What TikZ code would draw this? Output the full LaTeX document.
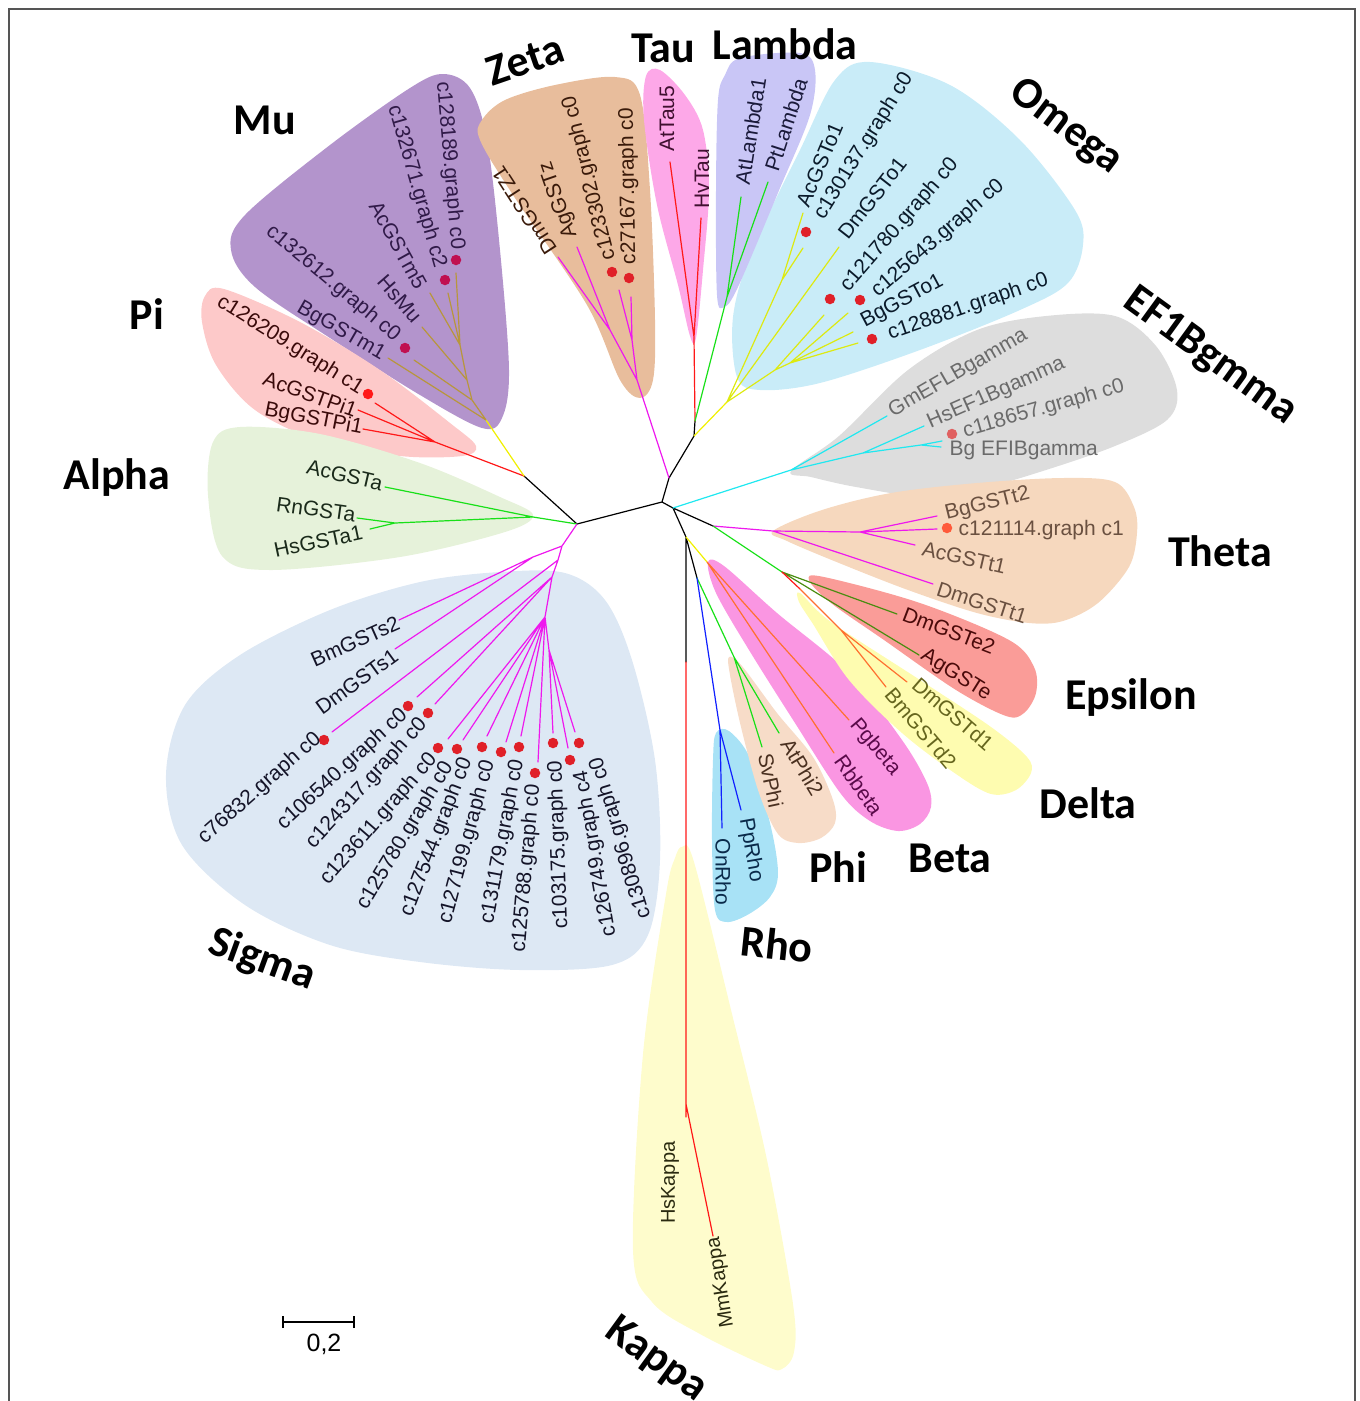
\documentclass[tikz,border=0pt]{standalone}
\usepackage{fontspec}
\setmainfont{Liberation Sans}
\newfontfamily\grpfont{Carlito}
\definecolor{hMu}{HTML}{B394CC}
\definecolor{hPi}{HTML}{FDC9C9}
\definecolor{hAlpha}{HTML}{E6F2DA}
\definecolor{hSigma}{HTML}{DDE8F4}
\definecolor{hKappa}{HTML}{FEFCCC}
\definecolor{hRho}{HTML}{A8E2F6}
\definecolor{hPhi}{HTML}{F7DCC8}
\definecolor{hBeta}{HTML}{FA96E2}
\definecolor{hDelta}{HTML}{FEFCB0}
\definecolor{hEps}{HTML}{FA9C98}
\definecolor{hTheta}{HTML}{F6D8BE}
\definecolor{hEF}{HTML}{DDDDDD}
\definecolor{hOmega}{HTML}{C9ECF8}
\definecolor{hLambda}{HTML}{C9C6F6}
\definecolor{hTau}{HTML}{FDA8E8}
\definecolor{hZeta}{HTML}{E8BD9C}
\definecolor{lOlive}{HTML}{B8963C}
\definecolor{lYel}{HTML}{F0F000}
\definecolor{lOmg}{HTML}{DDEA10}
\definecolor{lRed}{HTML}{FF1818}
\definecolor{lGrn}{HTML}{18E018}
\definecolor{lMag}{HTML}{EE18EE}
\definecolor{lCyan}{HTML}{20E8F0}
\definecolor{lDkGrn}{HTML}{4A8C10}
\definecolor{lOra}{HTML}{FF7030}
\definecolor{lBlue}{HTML}{1020FF}
\definecolor{tMu}{HTML}{301A48}
\definecolor{tPi}{HTML}{3A0A0A}
\definecolor{tAlpha}{HTML}{1A2A1A}
\definecolor{tSigma}{HTML}{141428}
\definecolor{tZeta}{HTML}{3A1A0A}
\definecolor{tTau}{HTML}{401030}
\definecolor{tLambda}{HTML}{1A1A3A}
\definecolor{tOmega}{HTML}{0A1A2A}
\definecolor{tEF}{HTML}{6A6A6A}
\definecolor{tTheta}{HTML}{6A5040}
\definecolor{tEps}{HTML}{4A0A0A}
\definecolor{tDelta}{HTML}{66661E}
\definecolor{tBeta}{HTML}{5A0A4A}
\definecolor{tPhi}{HTML}{4A3020}
\definecolor{tRho}{HTML}{0A2A4A}
\definecolor{tKappa}{HTML}{2A2A10}
\definecolor{dRed}{HTML}{E02028}
\definecolor{dMu}{HTML}{C01050}
\definecolor{dEF}{HTML}{E06060}
\definecolor{dTheta}{HTML}{FF5A3A}
\definecolor{frameC}{HTML}{555555}
\begin{document}
\begin{tikzpicture}[x=1pt,y=-1pt,
  br/.style={line width=1.2pt, line cap=round},
  lf/.style={font=\fontsize{21}{24}\selectfont, inner sep=0.5pt},
  lfe/.style={lf, anchor=east},
  lfw/.style={lf, anchor=west},
  grp/.style={font=\grpfont\bfseries\fontsize{44}{48}\selectfont, inner sep=0pt},
  dt/.style={circle, fill=#1, inner sep=0pt, minimum size=10.5pt},
  hull/.style={fill=#1, draw=none},
  frm/.style={draw=frameC, line width=1.6pt}]
\useasboundingbox (0,0) rectangle (1360,1401);
% frame
\coordinate (fr1) at (9,1430); \coordinate (fr2) at (9,9);
\coordinate (fr3) at (1355,9); \coordinate (fr4) at (1355,1430);
\draw[frm] (fr1) -- (fr2) -- (fr3) -- (fr4);
% hulls
\fill[hull=hMu] plot[smooth cycle, tension=0.55] coordinates {(443,74) (470,88) (487,140) (500,250) (509,370) (502,418) (482,428) (420,395) (330,338) (255,287) (231,250) (245,215) (330,145) (410,88)};
\fill[hull=hZeta] plot[smooth cycle, tension=0.55] coordinates {(482,120) (505,100) (555,85) (615,77) (640,95) (650,190) (655,320) (653,380) (640,398) (620,380) (587,305) (513,195) (480,140)};
\fill[hull=hPi] plot[smooth cycle, tension=0.55] coordinates {(205,296) (224,289) (300,322) (380,370) (450,423) (476,446) (462,456) (400,456) (320,441) (255,410) (216,365) (202,322)};
\fill[hull=hAlpha] plot[smooth cycle, tension=0.55] coordinates {(213,442) (240,427) (320,434) (420,463) (500,497) (533,515) (505,532) (400,557) (270,570) (222,556) (208,495)};
\fill[hull=hSigma] plot[smooth cycle, tension=0.55] coordinates {(500,572) (565,573) (605,600) (632,660) (655,760) (660,860) (648,935) (612,965) (520,970) (420,962) (330,945) (245,905) (182,845) (166,775) (185,705) (240,655) (330,610) (420,582)};
\fill[hull=hKappa] plot[smooth cycle, tension=0.55] coordinates {(682,847) (694,862) (733,1018) (767,1160) (793,1304) (794,1352) (782,1369) (766,1366) (700,1334) (652,1302) (633,1250) (643,1054) (666,894) (675,858)};
\fill[hull=hRho] plot[smooth cycle, tension=0.55] coordinates {(716,733) (729,731) (750,758) (770,823) (778,873) (770,897) (749,914) (727,922) (715,910) (712,840) (713,760)};
\fill[hull=hPhi] plot[smooth cycle, tension=0.55] coordinates {(729,657) (742,666) (777,713) (813,757) (833,800) (835,823) (821,838) (798,843) (778,834) (759,793) (741,727) (730,675)};
\fill[hull=hBeta] plot[smooth cycle, tension=0.55] coordinates {(708,562) (724,566) (777,613) (849,673) (902,740) (927,783) (931,807) (920,824) (898,831) (870,821) (841,794) (795,723) (749,650) (716,593)};
\fill[hull=hDelta] plot[smooth cycle, tension=0.55] coordinates {(800,593) (831,622) (920,680) (991,727) (1027,757) (1031,773) (1016,790) (991,794) (956,774) (902,733) (849,680) (813,624) (799,602)};
\fill[hull=hOmega] plot[smooth cycle, tension=0.55] coordinates {(835,80) (870,62) (950,85) (1020,140) (1075,210) (1083,245) (1068,283) (1020,310) (920,350) (820,383) (760,390) (737,377) (733,317) (752,250) (800,150)};
\fill[hull=hEF] plot[smooth cycle, tension=0.55] coordinates {(791,471) (839,436) (908,370) (977,330) (1046,316) (1115,316) (1156,346) (1177,390) (1167,420) (1115,446) (1046,470) (977,490) (925,497) (856,487) (811,477)};
\fill[hull=hTheta] plot[smooth cycle, tension=0.55] coordinates {(773,531) (822,510) (891,493) (977,483) (1063,478) (1115,482) (1134,507) (1137,533) (1129,567) (1098,603) (1063,621) (1029,623) (977,613) (908,590) (839,563) (787,541)};
\fill[hull=hEps] plot[smooth cycle, tension=0.55] coordinates {(809,580) (824,577) (920,603) (1009,640) (1034,667) (1036,693) (1024,713) (1006,716) (956,690) (884,640) (831,603)};
\fill[hull=hLambda] plot[smooth cycle, tension=0.55] coordinates {(725,75) (740,58) (800,53) (815,70) (810,115) (780,188) (738,287) (724,307) (717,295) (716,190) (718,100)};
\fill[hull=hTau] plot[smooth cycle, tension=0.55] coordinates {(646,76) (660,70) (685,95) (703,130) (709,190) (703,270) (696,338) (690,336) (678,285) (657,205) (644,120)};
% tree coordinates
\coordinate (A) at (577,524); \coordinate (B) at (662,502); \coordinate (B1) at (669,478);
\coordinate (C) at (694,436); \coordinate (C2) at (695,421); \coordinate (D) at (673,508);
\coordinate (E) at (713,526); \coordinate (F) at (686,537); \coordinate (G) at (697,578);
\coordinate (H) at (524,476); \coordinate (Kb) at (686,662);
\coordinate (Z0) at (637,380); \coordinate (Za) at (610,330); \coordinate (Zb) at (632,340);
\coordinate (zDm) at (558,257); \coordinate (zAg) at (577,247); \coordinate (zC1) at (619,290); \coordinate (zC2) at (631,297);
\coordinate (T0) at (694,337); \coordinate (tAt) at (670,162); \coordinate (tHv) at (701,218);
\coordinate (L0) at (727,297); \coordinate (lAt) at (741,197); \coordinate (lPt) at (768,182);
\coordinate (O0) at (727,402); \coordinate (Oa) at (782,280); \coordinate (Oc) at (775,370); \coordinate (Od) at (790,363);
\coordinate (oAc) at (803,213); \coordinate (oC130) at (803,248); \coordinate (oDm) at (839,247);
\coordinate (oC121) at (824,315); \coordinate (oC125) at (848,313); \coordinate (oBg) at (853,332); \coordinate (oC128) at (858,343);
\coordinate (Ef0) at (791,470); \coordinate (Ef1) at (863,453); \coordinate (Ef2) at (921,445);
\coordinate (eGm) at (887,416); \coordinate (eHs) at (924,426); \coordinate (eC) at (942,441); \coordinate (eBg) at (941,447);
\coordinate (Th0) at (773,531); \coordinate (ThN) at (860,532);
\coordinate (thBg) at (937,516); \coordinate (thC) at (937,529); \coordinate (thAc) at (915,545); \coordinate (thDm) at (933,584);
\coordinate (ED) at (782,572); \coordinate (D0) at (800,589); \coordinate (D1) at (841,630);
\coordinate (eDm2) at (897,614); \coordinate (eAg) at (919,655); \coordinate (dDm) at (907,682); \coordinate (dBm) at (886,687);
\coordinate (Bn) at (707,562); \coordinate (bPg) at (849,720); \coordinate (bRb) at (834,753);
\coordinate (P0) at (734,657); \coordinate (pAt) at (779,733); \coordinate (pSv) at (762,747);
\coordinate (R0) at (720,730); \coordinate (rOn) at (722,828); \coordinate (rPp) at (741,810);
\coordinate (K) at (686,1104); \coordinate (kHs) at (686,1117); \coordinate (kMm) at (713,1236);
\coordinate (Pi0) at (435,442); \coordinate (piC) at (375,403); \coordinate (piAc) at (358,410); \coordinate (piBg) at (363,429);
\coordinate (M0) at (486,420); \coordinate (M1) at (472,400); \coordinate (M2) at (467,380); \coordinate (M3) at (460,345);
\coordinate (mBg) at (388,358); \coordinate (mC126) at (414,360); \coordinate (mHs) at (422,327);
\coordinate (mAc) at (430,293); \coordinate (mC132) at (448,293); \coordinate (mC128) at (456,273);
\coordinate (Al0) at (533,517); \coordinate (Al1) at (395,523);
\coordinate (aAc) at (385,487); \coordinate (aRn) at (357,518); \coordinate (aHs) at (370,529);
\coordinate (S0) at (562,546); \coordinate (S1) at (533,557); \coordinate (S2) at (558,560);
\coordinate (S3) at (552,577); \coordinate (S5) at (545,617); \coordinate (S6) at (549,650);
\coordinate (sBm) at (399,620); \coordinate (sDm) at (395,649); \coordinate (sC76) at (332,732);
\coordinate (sC106) at (417,697); \coordinate (sC124) at (435,704); \coordinate (sC123) at (448,739);
\coordinate (sC125780) at (463,740); \coordinate (sC127544) at (487,736); \coordinate (sC127199) at (506,742);
\coordinate (sC131) at (521,736); \coordinate (sC125788) at (538,762); \coordinate (sC103) at (553,733);
\coordinate (sC126) at (568,748); \coordinate (sC130) at (575,732);
% branches
\draw[br,black] (A)--(B) (B)--(B1) (B1)--(C) (C)--(C2) (B)--(D) (D)--(E) (D)--(F) (F)--(G) (F)--(Kb) (A)--(H);
\draw[br,lMag] (B1)--(Z0) (Z0)--(Za) (Za)--(zDm) (Za)--(zAg) (Z0)--(Zb) (Zb)--(zC1) (Zb)--(zC2);
\draw[br,lRed] (C2)--(T0) (T0)--(tAt) (T0)--(tHv);
\draw[br,lGrn] (C2)--(L0) (L0)--(lAt) (L0)--(lPt);
\draw[br,lYel] (C)--(O0);
\draw[br,lOmg] (O0)--(Oa) (Oa)--(oAc) (Oa)--(oC130) (O0)--(oDm) (O0)--(Oc) (Oc)--(oC121) (Oc)--(Od) (Od)--(oC125) (Od)--(oBg) (Od)--(oC128);
\draw[br,lCyan] (D)--(Ef0) (Ef0)--(eGm) (Ef0)--(Ef1) (Ef1)--(eHs) (Ef1)--(Ef2) (Ef2)--(eC) (Ef2)--(eBg);
\draw[br,lMag] (E)--(Th0) (Th0)--(ThN) (ThN)--(thBg) (ThN)--(thC) (ThN)--(thAc) (Th0)--(thDm);
\draw[br,lGrn] (E)--(ED);
\draw[br,lDkGrn] (ED)--(eDm2) (ED)--(eAg);
\draw[br,lRed] (ED)--(D0);
\draw[br,lOra] (D0)--(D1) (D1)--(dDm) (D1)--(dBm);
\draw[br,lYel] (F)--(Bn);
\draw[br,lOra] (Bn)--(bPg) (Bn)--(bRb);
\draw[br,lGrn] (G)--(P0) (P0)--(pAt) (P0)--(pSv);
\draw[br,lBlue] (G)--(R0) (R0)--(rOn) (R0)--(rPp);
\draw[br,lRed] (Kb)--(K) (K)--(kHs) (K)--(kMm);
\draw[br,lRed] (H)--(Pi0) (Pi0)--(piC) (Pi0)--(piAc) (Pi0)--(piBg);
\draw[br,lYel] (H)--(M0);
\draw[br,lOlive] (M0)--(mBg) (M0)--(M1) (M1)--(mC126) (M1)--(M2) (M2)--(mHs) (M2)--(M3) (M3)--(mAc) (M3)--(mC132) (M3)--(mC128);
\draw[br,lGrn] (A)--(Al0) (Al0)--(aAc) (Al0)--(Al1) (Al1)--(aRn) (Al1)--(aHs);
\draw[br,lMag] (A)--(S0) (S0)--(S1) (S1)--(sBm) (S1)--(sDm) (S0)--(S2) (S2)--(sC76) (S2)--(S3)
  (S3)--(sC106) (S3)--(sC124) (S3)--(S5) (S5)--(sC123) (S5)--(sC125780) (S5)--(sC127544)
  (S5)--(sC127199) (S5)--(sC131) (S5)--(sC125788) (S5)--(S6) (S6)--(sC103) (S6)--(sC126) (S6)--(sC130);
% dots
\node[dt=dMu] (dm1) at (456,260) {};
\node[dt=dMu] (dm2) at (445,280) {};
\node[dt=dMu] (dm3) at (405,348) {};
\node[dt=lRed] (dp1) at (368,394) {};
\node[dt=dRed] (dz1) at (612,272) {};
\node[dt=dRed] (dz2) at (629,278) {};
\node[dt=dRed] (do1) at (806,232) {};
\node[dt=dRed] (do2) at (830,299) {};
\node[dt=dRed] (do3) at (860,300) {};
\node[dt=dRed] (do4) at (872,339) {};
\node[dt=dEF] (de1) at (952,434) {};
\node[dt=dTheta] (dt1) at (947,528) {};
\node[dt=dRed] (ds1) at (324,740) {};
\node[dt=dRed] (ds2) at (408,706) {};
\node[dt=dRed] (ds3) at (428,713) {};
\node[dt=dRed] (ds4) at (438,748) {};
\node[dt=dRed] (ds5) at (457,749) {};
\node[dt=dRed] (ds6) at (482,747) {};
\node[dt=dRed] (ds7) at (501,752) {};
\node[dt=dRed] (ds8) at (519,747) {};
\node[dt=dRed] (ds9) at (535,773) {};
\node[dt=dRed] (ds10) at (553,743) {};
\node[dt=dRed] (ds11) at (570,760) {};
\node[dt=dRed] (ds12) at (579,743) {};
% leaf labels - Mu
\node[lfe, text=tMu, rotate=-85] (l1) at (457,250) {c128189.graph c0};
\node[lfe, text=tMu, rotate=-74] (l2) at (440,268) {c132671.graph c2};
\node[lfe, text=tMu, rotate=-61] (l3) at (422,288) {AcGSTm5};
\node[lfe, text=tMu, rotate=-49] (l4) at (418,320) {HsMu};
\node[lfe, text=tMu, rotate=-40] (l5) at (398,338) {c132612.graph c0};
\node[lfe, text=tMu, rotate=-30] (l6) at (384,356) {BgGSTm1};
% Pi
\node[lfe, text=tPi, rotate=-32] (l7) at (362,390) {c126209.graph c1};
\node[lfe, text=tPi, rotate=-20] (l8) at (357,411) {AcGSTPi1};
\node[lfe, text=tPi, rotate=-11] (l9) at (363,429) {BgGSTPi1};
% Alpha
\node[lfe, text=tAlpha, rotate=-13] (l10) at (383,484) {AcGSTa};
\node[lfe, text=tAlpha, rotate=-8] (l11) at (356,515) {RnGSTa};
\node[lfe, text=tAlpha, rotate=12] (l12) at (363,532) {HsGSTa1};
% Sigma
\node[lfe, text=tSigma, rotate=24] (l13) at (399,622) {BmGSTs2};
\node[lfe, text=tSigma, rotate=36] (l14) at (396,653) {DmGSTs1};
\node[lfe, text=tSigma, rotate=41.5] (l15) at (319,736) {c76832.graph c0};
\node[lfe, text=tSigma, rotate=42.5] (l16) at (405,712) {c106540.graph c0};
\node[lfe, text=tSigma, rotate=47.5] (l17) at (424,721) {c124317.graph c0};
\node[lfe, text=tSigma, rotate=49] (l18) at (434,756) {c123611.graph c0};
\node[lfe, text=tSigma, rotate=59] (l19) at (449,763) {c125780.graph c0};
\node[lfe, text=tSigma, rotate=69] (l20) at (467,758) {c127544.graph c0};
\node[lfe, text=tSigma, rotate=75] (l21) at (489,760) {c127199.graph c0};
\node[lfe, text=tSigma, rotate=79.5] (l22) at (518,759) {c131179.graph c0};
\node[lfe, text=tSigma, rotate=85] (l23) at (534,784) {c125788.graph c0};
\node[lfe, text=tSigma, rotate=92] (l24) at (556,760) {c103175.graph c0};
\node[lfe, text=tSigma, rotate=100] (l25) at (581,770) {c126749.graph c4};
\node[lfe, text=tSigma, rotate=107] (l26) at (596,757) {c130896.graph c0};
% Kappa
\node[lfe, text=tKappa, rotate=90, font=\fontsize{20}{23}\selectfont] (l27) at (670,1141) {HsKappa};
\node[lfe, text=tKappa, rotate=99, font=\fontsize{20}{23}\selectfont] (l28) at (714,1237) {MmKappa};
% Rho
\node[lfw, text=tRho, rotate=-90] (l29) at (723,838) {OnRho};
\node[lfw, text=tRho, rotate=-80] (l30) at (745,818) {PpRho};
% Phi
\node[lfw, text=tPhi, rotate=-59] (l31) at (786,740) {AtPhi2};
\node[lfw, text=tPhi, rotate=-78] (l32) at (765,753) {SvPhi};
% Beta
\node[lfw, text=tBeta, rotate=-50] (l33) at (853,721) {Pgbeta};
\node[lfw, text=tBeta, rotate=-55] (l34) at (839,757) {Rbbeta};
% Delta
\node[lfw, text=tDelta, rotate=-41] (l35) at (915,681) {DmGSTd1};
\node[lfw, text=tDelta, rotate=-50] (l36) at (889,690) {BmGSTd2};
% Epsilon
\node[lfw, text=tEps, rotate=-21] (l37) at (903,613) {DmGSTe2};
\node[lfw, text=tEps, rotate=-32] (l38) at (922,654) {AgGSTe};
% Theta
\node[lfw, text=tTheta, rotate=14] (l39) at (945,515) {BgGSTt2};
\node[lfw, text=tTheta] (l40) at (958,530) {c121114.graph c1};
\node[lfw, text=tTheta, rotate=-13] (l41) at (922,548) {AcGSTt1};
\node[lfw, text=tTheta, rotate=-18] (l42) at (937,588) {DmGSTt1};
% EF1B
\node[lfw, text=tEF, rotate=30] (l43) at (890,413) {GmEFLBgamma};
\node[lfw, text=tEF, rotate=24] (l44) at (928,424) {HsEF1Bgamma};
\node[lfw, text=tEF, rotate=16] (l45) at (963,432) {c118657.graph c0};
\node[lfw, text=tEF] (l46) at (949,450) {Bg EFIBgamma};
% Omega
\node[lfw, text=tOmega, rotate=67] (l47) at (802,206) {AcGSTo1};
\node[lfw, text=tOmega, rotate=58] (l48) at (819,218) {c130137.graph c0};
\node[lfw, text=tOmega, rotate=52] (l49) at (842,237) {DmGSTo1};
\node[lfw, text=tOmega, rotate=49] (l50) at (844,289) {c121780.graph c0};
\node[lfw, text=tOmega, rotate=41] (l51) at (874,294) {c125643.graph c0};
\node[lfw, text=tOmega, rotate=28] (l52) at (862,323) {BgGSTo1};
\node[lfw, text=tOmega, rotate=19] (l53) at (888,335) {c128881.graph c0};
% Lambda
\node[lfw, text=tLambda, rotate=81] (l54) at (742,185) {AtLambda1};
\node[lfw, text=tLambda, rotate=72] (l55) at (771,171) {PtLambda};
% Tau
\node[lfw, text=tTau, rotate=90] (l56) at (667,152) {AtTau5};
\node[lfw, text=tTau, rotate=90] (l57) at (702,209) {HvTau};
% Zeta
\node[lfw, text=tZeta, rotate=123] (l58) at (552,253) {DmGSTZ1};
\node[lfw, text=tZeta, rotate=109] (l59) at (572,238) {AgGSTz};
\node[lfw, text=tZeta, rotate=104] (l60) at (610,260) {c123302.graph c0};
\node[lfw, text=tZeta, rotate=91] (l61) at (630,265) {c27167.graph c0};
% group labels
\node[grp] (gMu) at (265,120) {Mu};
\node[grp, rotate=19] (gZeta) at (525,60) {Zeta};
\node[grp] (gTau) at (663,48) {Tau};
\node[grp] (gLambda) at (785,44) {Lambda};
\node[grp, rotate=-37] (gOmega) at (1066,127) {Omega};
\node[grp, rotate=-36] (gEF) at (1210,357) {EF1Bgmma};
\node[grp] (gPi) at (147,314) {Pi};
\node[grp] (gAlpha) at (117,478) {Alpha};
\node[grp] (gTheta) at (1220,551) {Theta};
\node[grp] (gEps) at (1131,698) {Epsilon};
\node[grp] (gDelta) at (1088,803) {Delta};
\node[grp] (gBeta) at (950,858) {Beta};
\node[grp] (gPhi) at (838,867) {Phi};
\node[grp, rotate=-6] (gRho) at (777,944) {Rho};
\node[grp, rotate=-20] (gSigma) at (262,960) {Sigma};
\node[grp, rotate=-36] (gKappa) at (656,1360) {Kappa};
% scale bar
\coordinate (sb1) at (283,1322); \coordinate (sb2) at (354,1322);
\draw[line width=1.2pt] (sb1) -- (sb2);
\draw[line width=1.2pt] ([yshift=-6pt]sb1) -- ([yshift=6pt]sb1);
\draw[line width=1.2pt] ([yshift=-6pt]sb2) -- ([yshift=6pt]sb2);
\node[font=\fontsize{25}{28}\selectfont, inner sep=0pt] (sbl) at (324,1344) {0,2};
\end{tikzpicture}
\end{document}
